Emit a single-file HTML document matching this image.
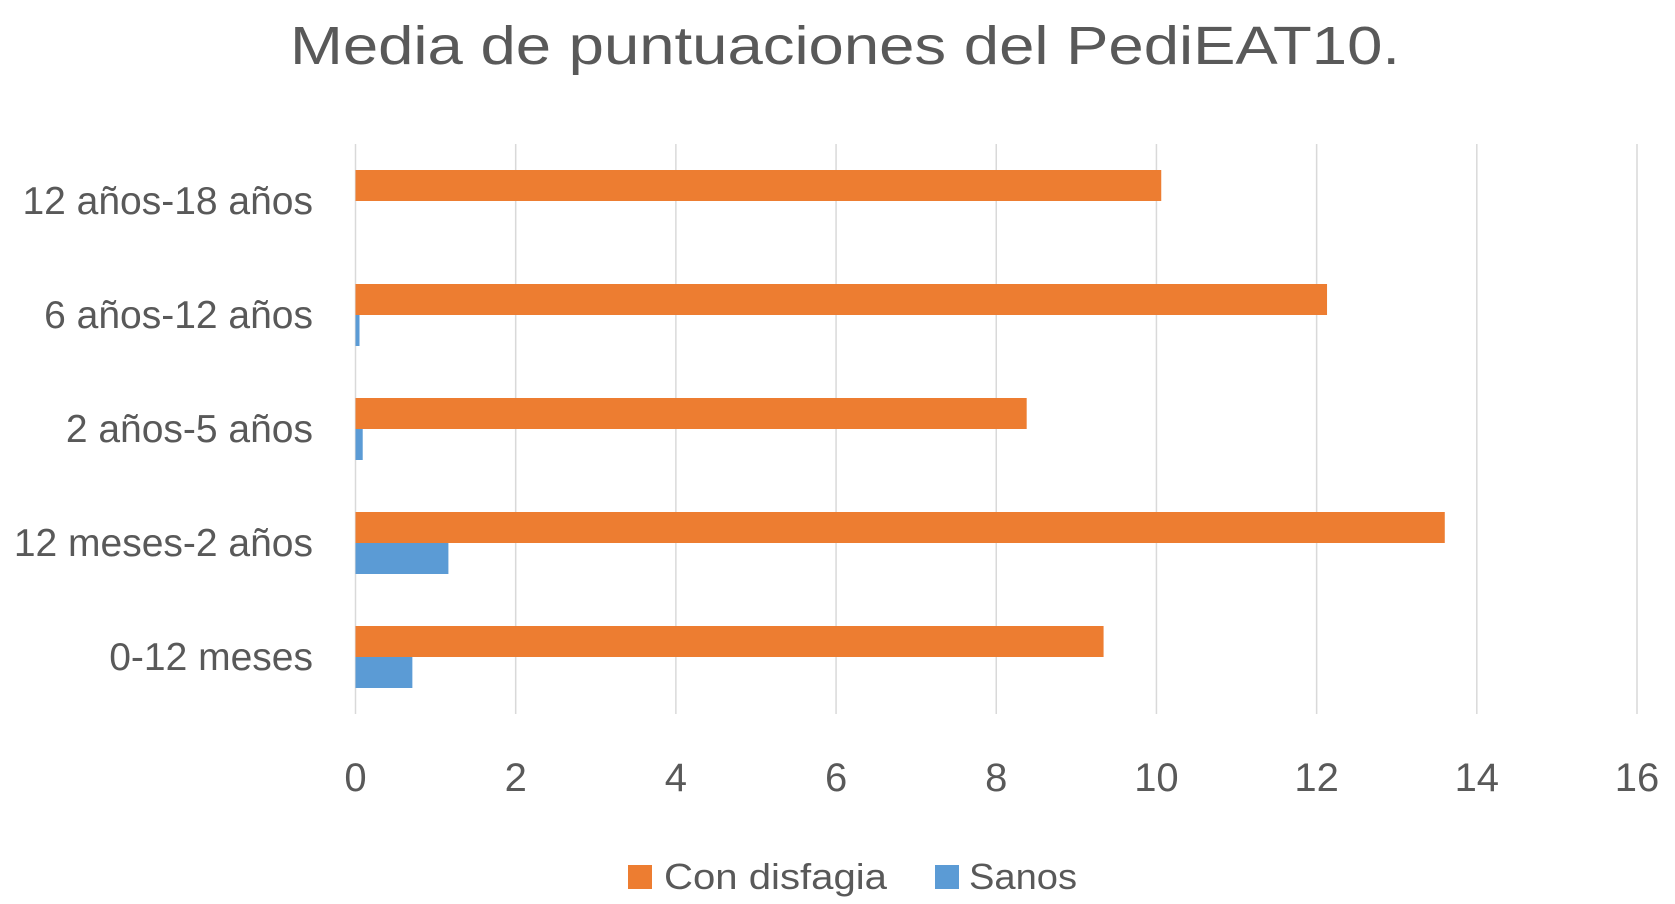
<!DOCTYPE html>
<html><head><meta charset="utf-8"><style>
html,body{margin:0;padding:0;background:#fff;}
svg{display:block;font-family:"Liberation Sans",sans-serif;}
</style></head><body>
<svg id="chart" width="1675" height="904" viewBox="0 0 1675 904" xmlns="http://www.w3.org/2000/svg">
<text x="845" y="64" text-anchor="middle" font-size="54" fill="#595959" textLength="1110" lengthAdjust="spacingAndGlyphs">Media de puntuaciones del PediEAT10.</text>
<g id="grid"></g>
<g id="bars"></g>
<g id="ylabels"></g>
<g id="xlabels"></g>
<g>
<rect x="628" y="865" width="24" height="24" fill="#ED7D31"/>
<text x="664" y="889" font-size="36" fill="#595959" textLength="223" lengthAdjust="spacingAndGlyphs">Con disfagia</text>
<rect x="935" y="865" width="24" height="24" fill="#5B9BD5"/>
<text x="969" y="889" font-size="36" fill="#595959" textLength="108" lengthAdjust="spacingAndGlyphs">Sanos</text>
</g>
</svg>
<script>
const categories = ["0-12 meses","12 meses-2 años","2 años-5 años","6 años-12 años","12 años-18 años"];
const conDisfagia = [9.34, 13.6, 8.38, 12.13, 10.06];
const sanos = [0.71, 1.16, 0.09, 0.05, 0];
const xTicks = [0,2,4,6,8,10,12,14,16];
const NS="http://www.w3.org/2000/svg";
const X0=355.5, X1=1637, XMAX=16, YT=144, YB=714;
const xs=v=>X0+(X1-X0)*v/XMAX;
const band=(YB-YT)/categories.length;
const barH=31;
function mk(tag,attrs,parent){const e=document.createElementNS(NS,tag);for(const k in attrs)e.setAttribute(k,attrs[k]);parent.appendChild(e);return e;}
const grid=document.getElementById('grid'),bars=document.getElementById('bars'),yl=document.getElementById('ylabels'),xl=document.getElementById('xlabels');
xTicks.forEach(t=>{
  const l=mk('line',{x1:xs(t),x2:xs(t),y1:YT,y2:YB,stroke:'#d9d9d9','stroke-width':1.5},grid);
  
  
  const tx=mk('text',{x:xs(t),y:791,'text-anchor':'middle','font-size':40,fill:'#595959'},xl);
  tx.textContent=t;
  
  
});
categories.forEach((c,i)=>{
  const idx=categories.length-1-i;
  const cy=YT+band*idx+band/2;
  const r1=mk('rect',{x:X0,y:cy-barH,width:xs(conDisfagia[i])-X0,height:barH,fill:'#ED7D31'},bars);
  
  
  const r2=mk('rect',{x:X0,y:cy,width:xs(sanos[i])-X0,height:barH,fill:'#5B9BD5'},bars);
  
  
  const t=mk('text',{x:313,y:cy+13,'text-anchor':'end','font-size':39,fill:'#595959'},yl);
  t.textContent=c;
  
  
});
</script>
</body></html>
